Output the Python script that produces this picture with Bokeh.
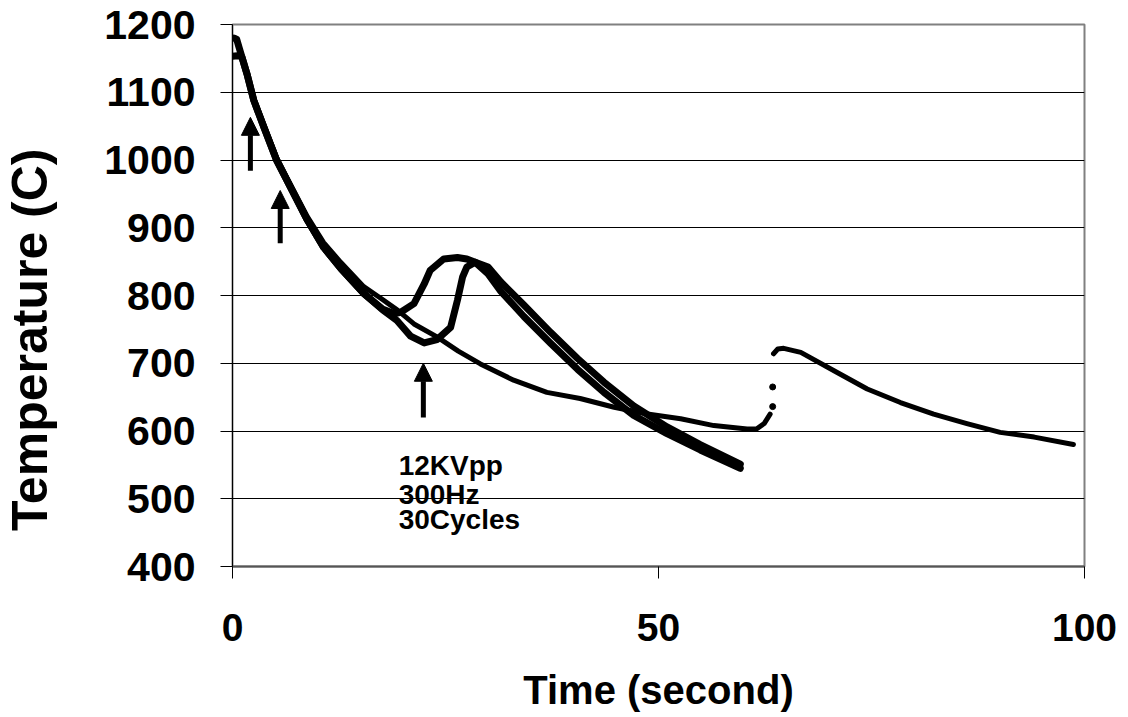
import math
from bokeh.plotting import figure
from bokeh.layouts import row
from bokeh.models import (Range1d, FixedTicker, Arrow, NormalHead, Label)
from bokeh.embed import file_html
from bokeh.resources import INLINE

# ---------------- data ----------------
x_ticks = [0, 50, 100]
y_ticks = [400, 500, 600, 700, 800, 900, 1000, 1100, 1200]

# run A: dips to ~730 then re-heats, peak ~848
time_a = [0.2, 0.5, 0.8, 1.7, 2.5, 3.7, 5.2, 6.8, 8.8, 10.7, 12.7, 15.4, 17.6,
          19.3, 20.9, 22.5, 24.0, 25.6, 26.4, 27.0, 27.5, 28.5, 30.0, 31.5,
          34.2, 37.3, 40.5, 43.6, 47.1, 51.0, 54.9, 59.6]
temp_a = [1180, 1178, 1165, 1127, 1088, 1048, 999, 960, 911, 871, 840, 803, 779,
          763, 740, 730, 735, 753, 793, 827, 842, 849, 842, 820,
          786, 746, 707, 672, 637, 606, 580, 551]

# run B: re-heats earlier, peak ~856
time_b = [0.0, 0.6, 1.1, 1.7, 2.5, 3.7, 5.2, 6.8, 8.8, 10.7, 12.7, 15.4, 17.6,
          19.0, 19.7, 21.3, 22.5, 23.2, 24.8, 26.4, 27.5, 28.5, 30.0, 31.5,
          34.2, 37.3, 40.5, 43.6, 47.1, 51.0, 54.9, 59.6]
temp_b = [1153, 1154, 1152, 1127, 1088, 1048, 999, 960, 911, 871, 840, 803, 780,
          773, 775, 788, 817, 837, 854, 856, 854, 849, 832, 806,
          769, 730, 691, 657, 623, 596, 572, 545]

# run C: smooth cooling, then second heating near 63 s
time_c1 = [0.2, 0.5, 0.8, 1.7, 2.5, 3.7, 5.2, 6.8, 8.8, 10.7, 12.7, 15.4, 17.4,
           19.4, 21.3, 24.0, 26.5, 29.1, 33.0, 36.9, 40.8, 44.8, 48.7, 52.6,
           56.5, 60.4, 61.5, 62.4, 63.1]
temp_c1 = [1180, 1178, 1165, 1129, 1091, 1051, 1003, 964, 916, 878, 849, 813, 796,
           778, 758, 739, 718, 699, 675, 657, 648, 635, 625, 618,
           608, 603, 603, 611, 625]
time_c_gap = [63.4, 63.4]
temp_c_gap = [636, 665]
time_c2 = [63.5, 64.0, 64.7, 66.7, 70.6, 74.5, 78.4, 82.3, 86.2, 90.1, 94.1, 98.7]
temp_c2 = [714, 721, 722, 716, 689, 662, 642, 625, 611, 598, 591, 580]

# annotations
arrow_x = [2.1, 5.6, 22.4]
arrow_y_from = [984, 877, 620]
arrow_y_to = [1063, 955, 700]
note_lines = ["12KVpp", "300Hz", "30Cycles"]
note_x = 19.5
note_y = [549, 507, 469]

x_title = "Time (second)"
y_title = "Temperature (C)"

FONT = "Liberation Sans"
W, H = 1128, 717
TITLE_W = 100

# ---- narrow strip that carries the y-axis title (as in the original, below centre)
tfig = figure(width=TITLE_W, height=H, output_backend="svg", toolbar_location=None,
              x_range=Range1d(0, TITLE_W), y_range=Range1d(0, H),
              x_axis_location=None, y_axis_location=None, min_border=0)
tfig.outline_line_color = None
tfig.grid.visible = False
tfig.background_fill_color = "white"
tfig.border_fill_color = "white"
tfig.add_layout(Label(x=29, y=300, text=y_title, angle=math.pi / 2,
                      text_font=FONT, text_font_style="bold", text_font_size="50px",
                      text_color="black", text_align="center", text_baseline="middle"))

# ---- main chart
p = figure(width=W - TITLE_W, height=H, output_backend="svg", toolbar_location=None,
           x_range=Range1d(0, 100), y_range=Range1d(400, 1200),
           min_border_left=232 - TITLE_W, min_border_right=44, min_border_top=24,
           min_border_bottom=151)

p.background_fill_color = "white"
p.border_fill_color = "white"
p.outline_line_color = "#808080"
p.outline_line_width = 2

p.xgrid.visible = False
p.ygrid.ticker = FixedTicker(ticks=y_ticks)
p.ygrid.grid_line_color = "black"
p.ygrid.grid_line_width = 1

for ax, ticks in ((p.xaxis[0], x_ticks), (p.yaxis[0], y_ticks)):
    ax.ticker = FixedTicker(ticks=ticks)
    ax.major_tick_in = 0
    ax.major_tick_out = 12
    ax.minor_tick_line_color = None
    ax.major_tick_line_color = "black"
    ax.axis_line_color = "black"
    ax.major_label_text_font = FONT
    ax.major_label_text_font_style = "bold"
    ax.major_label_text_color = "black"
    ax.axis_label_text_font = FONT
    ax.axis_label_text_font_style = "bold"
    ax.axis_label_text_color = "black"

p.xaxis.axis_line_color = "#555555"
p.xaxis.axis_line_width = 2
p.xaxis.major_label_text_font_size = "39px"
p.xaxis.major_label_standoff = 35
p.xaxis.axis_label = x_title
p.xaxis.axis_label_text_font_size = "40px"
p.xaxis.axis_label_standoff = 24

p.yaxis.major_label_text_font_size = "41px"
p.yaxis.major_label_standoff = 25

# data curves
for xs, ys in ((time_a, temp_a), (time_b, temp_b)):
    p.line(xs, ys, line_color="black", line_width=7, line_join="round", line_cap="round")
p.line(time_c1, temp_c1, line_color="black", line_width=5, line_join="round", line_cap="round")
p.scatter(time_c_gap, temp_c_gap, size=6, color="black")
p.line(time_c2, temp_c2, line_color="black", line_width=5, line_join="round", line_cap="round")

# arrows
for ax_, y0, y1 in zip(arrow_x, arrow_y_from, arrow_y_to):
    p.add_layout(Arrow(end=NormalHead(size=18, fill_color="black", line_color="black"),
                       x_start=ax_, y_start=y0, x_end=ax_, y_end=y1,
                       line_width=5, line_color="black"))

for txt, yy in zip(note_lines, note_y):
    p.add_layout(Label(x=note_x, y=yy, text=txt, text_font=FONT,
                       text_font_style="bold", text_font_size="28px",
                       text_color="black", text_baseline="alphabetic"))

layout = row(tfig, p, spacing=0)
open("out.html", "w").write(file_html(layout, INLINE))
